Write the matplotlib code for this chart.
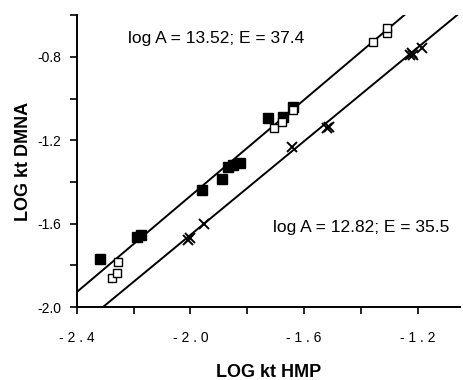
import numpy as np
from matplotlib import pyplot as plt

plt.rcParams['font.family'] = ['Liberation Sans', 'DejaVu Sans']

# filled squares
filled_x = [-2.319, -2.189, -2.175, -1.960, -1.890, -1.869, -1.851, -1.826, -1.728, -1.675, -1.640]
filled_y = [-1.770, -1.664, -1.654, -1.438, -1.386, -1.328, -1.318, -1.309, -1.093, -1.088, -1.040]

# open squares
open_x = [-2.277, -2.259, -2.256, -1.707, -1.679, -1.640, -1.358, -1.309, -1.309]
open_y = [-1.861, -1.837, -1.784, -1.141, -1.112, -1.054, -0.728, -0.685, -0.661]

# crosses
cross_x = [-2.002, -2.008, -1.953, -1.643, -1.520, -1.513, -1.221, -1.228, -1.218, -1.186]
cross_y = [-1.669, -1.678, -1.602, -1.232, -1.141, -1.137, -0.781, -0.790, -0.790, -0.757]

# fitted lines (slope, intercept)
upper_line = (1.152, 0.837)
lower_line = (1.123, 0.592)

xticks = [-2.4, -2.2, -2.0, -1.8, -1.6, -1.4, -1.2]
yticks = [-2.0, -1.8, -1.6, -1.4, -1.2, -1.0, -0.8, -0.6]

fig = plt.figure(figsize=(4.63, 3.8), dpi=100)
ax = fig.add_axes([0.166, 0.192, 0.828, 0.768])

xline = np.linspace(-2.4, -1.05, 50)
for slope, intercept in [upper_line, lower_line]:
    ax.plot(xline, slope*xline + intercept, color='black', lw=1.4)

ax.plot(filled_x, filled_y, 's', color='black', markersize=6.5, mec='black')
ax.plot(open_x, open_y, 's', mfc='white', mec='black', markersize=6, mew=1.0)
ax.plot(cross_x, cross_y, 'x', color='black', markersize=7, mew=1.4)

ax.text(-2.22, -0.71, "log A = 13.52; E = 37.4", fontsize=12.5, va='center')
ax.text(-1.71, -1.62, "log A = 12.82; E = 35.5", fontsize=12.5, va='center')

ax.set_xlim(-2.4, -1.05)
ax.set_ylim(-2.0, -0.6)
ax.set_xticks(xticks)
ax.set_xticklabels([" ".join("%.1f" % t) if i % 2 == 0 else "" for i, t in enumerate(xticks)],
                   fontsize=10)
ax.set_yticks(yticks)
ax.set_yticklabels(["%.1f" % t if i % 2 == 0 else "" for i, t in enumerate(yticks)],
                   fontsize=10)
ax.tick_params(direction='out', length=5, width=1.2)
ax.tick_params(axis='x', pad=12)
ax.tick_params(axis='y', pad=6)

for side in ['top', 'right']:
    ax.spines[side].set_visible(False)
for side in ['left', 'bottom']:
    ax.spines[side].set_linewidth(1.4)

ax.set_xlabel('LOG kt HMP', fontsize=13, fontweight='bold', labelpad=14)
ax.set_ylabel('LOG kt DMNA', fontsize=13, fontweight='bold', labelpad=4)

plt.savefig("out.png")
